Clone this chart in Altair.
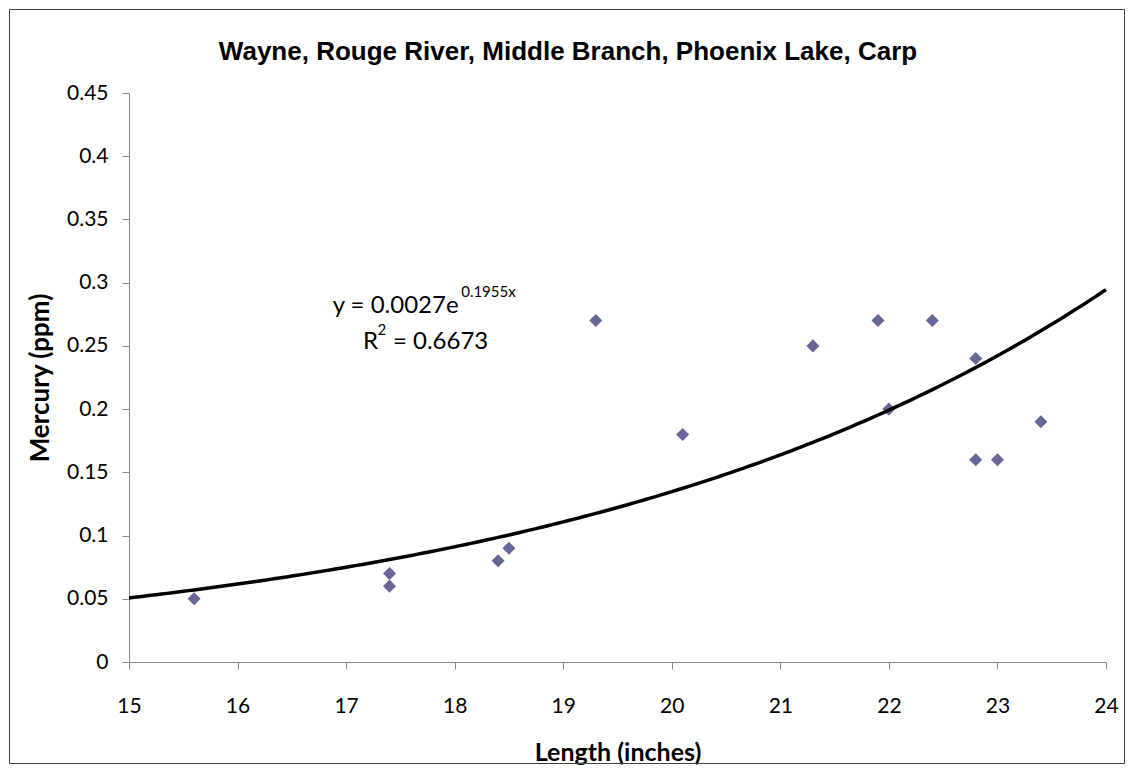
import altair as alt
import pandas as pd

# Data
length_in = [15.6, 17.4, 17.4, 18.4, 18.5, 19.3, 20.1, 21.3, 21.9, 22.0, 22.4, 22.8, 22.8, 23.0, 23.4]
mercury_ppm = [0.05, 0.07, 0.06, 0.08, 0.09, 0.27, 0.18, 0.25, 0.27, 0.20, 0.27, 0.24, 0.16, 0.16, 0.19]

# Exponential trendline shown on the chart: y = a * e^(b x)
trend_a = 0.0027
trend_b = 0.1955

x_ticks = [15, 16, 17, 18, 19, 20, 21, 22, 23, 24]
y_ticks = [0, 0.05, 0.1, 0.15, 0.2, 0.25, 0.3, 0.35, 0.4, 0.45]

eq_main_text = ["y = 0.0027e", "R", " = 0.6673"]
eq_main_x = [16.876, 17.155, 17.431]
eq_main_y = [0.2818, 0.2533, 0.2533]
eq_sup_text = ["0.1955x", "2"]
eq_sup_x = [18.06, 17.29]
eq_sup_y = [0.2925, 0.2625]

title_text = "Wayne, Rouge River, Middle Branch, Phoenix Lake, Carp"

W, H = 977, 569
PAD = {"left": 121, "top": 85, "right": 21, "bottom": 104}

df = pd.DataFrame({"length": length_in, "mercury": mercury_ppm})
eq_main = pd.DataFrame({"length": eq_main_x, "mercury": eq_main_y, "t": eq_main_text})
eq_sup = pd.DataFrame({"length": eq_sup_x, "mercury": eq_sup_y, "t": eq_sup_text})

axis_common = dict(
    grid=False,
    domainColor="#868686",
    tickColor="#868686",
    domainWidth=1,
    tickWidth=1,
    tickSize=7,
    labelFont="Lato",
    labelFontSize=21,
    labelColor="#000000",
    labelFlush=False,
    labelOverlap=False,
    titleFont="Lato",
    titleFontWeight="bold",
    titleColor="#000000",
)

x_enc = alt.X(
    "length:Q",
    scale=alt.Scale(domain=[15, 24], nice=False, zero=False),
    axis=alt.Axis(
        values=x_ticks, format="d", title="Length (inches)",
        labelPadding=26, titleX=W / 2, titleY=90, titleBaseline="middle",
        titleFontSize=25,
        **axis_common,
    ),
)
y_enc = alt.Y(
    "mercury:Q",
    scale=alt.Scale(domain=[0, 0.45], nice=False, zero=True),
    axis=alt.Axis(
        values=y_ticks, format="~g", title="Mercury (ppm)",
        labelPadding=14, titleX=-89, titleY=H / 2, titleAngle=-90,
        titleBaseline="middle", titleAlign="center", titleFontSize=26,
        **axis_common,
    ),
)

points = alt.Chart(df).mark_point(
    shape="diamond", filled=True, size=170, color="#666699", opacity=1
).encode(x=x_enc, y=y_enc)

trend = (
    alt.Chart(alt.sequence(15, 24.001, 0.05, as_="length"))
    .transform_calculate(mercury=f"{trend_a} * exp({trend_b} * datum.length)")
    .mark_line(color="#000000", strokeWidth=3.5)
    .encode(x="length:Q", y="mercury:Q")
)

eq1 = alt.Chart(eq_main).mark_text(
    font="Lato", fontSize=24, align="left", baseline="middle", color="#000000"
).encode(x="length:Q", y="mercury:Q", text="t:N")

eq2 = alt.Chart(eq_sup).mark_text(
    font="Lato", fontSize=15, align="left", baseline="middle", color="#000000"
).encode(x="length:Q", y="mercury:Q", text="t:N")

one_row = pd.DataFrame({"k": [0]})

frame = alt.Chart(one_row).mark_rect(
    fillOpacity=0, stroke="#404040", strokeWidth=1
).encode(
    x=alt.value(-PAD["left"] + 1.5),
    x2=alt.value(W + PAD["right"] - 2.5),
    y=alt.value(-PAD["top"] + 1.5),
    y2=alt.value(H + PAD["bottom"] - 2.5),
)

title_mark = alt.Chart(one_row).mark_text(
    font="Liberation Sans", fontSize=26, fontWeight="bold", color="#000000",
    align="center", baseline="middle",
).encode(
    x=alt.value(439),
    y=alt.value(-41),
    text=alt.value(title_text),
)

no_border = alt.ViewBackground(stroke="transparent", strokeWidth=0, strokeOpacity=0)

chart = (
    alt.layer(frame, points, trend, eq1, eq2, title_mark)
    .properties(
        width=W,
        height=H,
        padding=PAD,
        background="white",
        view=no_border,
        autosize=alt.AutoSizeParams(type="none"),
    )
    .configure_view(strokeWidth=0, stroke="transparent", strokeOpacity=0)
)

chart.save("out.html", embed_options={"renderer": "svg", "actions": False})
